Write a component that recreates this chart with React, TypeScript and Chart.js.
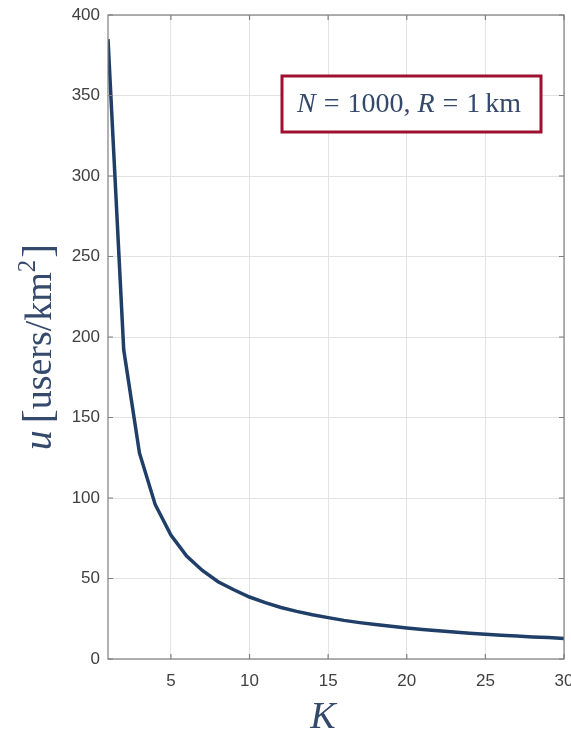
import React, { useEffect, useRef } from "react";
import { Chart, registerables } from "chart.js";

Chart.register(...registerables);

const kValues = [1, 2, 3, 4, 5, 6, 7, 8, 9, 10, 11, 12, 13, 14, 15, 16, 17, 18, 19, 20, 21, 22, 23, 24, 25, 26, 27, 28, 29, 30];
const uValues = [385, 192, 128, 96, 77, 64, 55, 48, 43, 38.5, 35, 32, 29.6, 27.5, 25.7, 24, 22.6, 21.4, 20.3, 19.2, 18.3, 17.5, 16.7, 16, 15.4, 14.8, 14.3, 13.7, 13.3, 12.8];
const xTickValues = [5, 10, 15, 20, 25, 30];
const yTickValues = [0, 50, 100, 150, 200, 250, 300, 350, 400];
const annotationText = { n: "N", nVal: "1000", r: "R", rVal: "1", unit: "km" };

const TEXT_BLUE = "#34496b";
const AXIS_GRAY = "#7f7f7f";

const decorPlugin = {
  id: "decor",
  afterDraw(chart: any) {
    const { ctx, chartArea } = chart;
    const { left, right, top, bottom } = chartArea;
    const xs = chart.scales.x;
    const ys = chart.scales.y;
    ctx.save();
    // box
    ctx.strokeStyle = AXIS_GRAY;
    ctx.lineWidth = 1.2;
    ctx.strokeRect(left, top, right - left, bottom - top);
    // inward ticks
    const tl = 5;
    ctx.beginPath();
    xTickValues.forEach((v) => {
      const px = xs.getPixelForValue(v);
      ctx.moveTo(px, bottom);
      ctx.lineTo(px, bottom - tl);
      ctx.moveTo(px, top);
      ctx.lineTo(px, top + tl);
    });
    yTickValues.forEach((v) => {
      const py = ys.getPixelForValue(v);
      ctx.moveTo(left, py);
      ctx.lineTo(left + tl, py);
      ctx.moveTo(right, py);
      ctx.lineTo(right - tl, py);
    });
    ctx.stroke();

    // annotation box
    const bx = 282, by = 76, bw = 259, bh = 56;
    ctx.fillStyle = "#ffffff";
    ctx.fillRect(bx, by, bw, bh);
    ctx.strokeStyle = "#9e1030";
    ctx.lineWidth = 3;
    ctx.strokeRect(bx, by, bw, bh);
    ctx.fillStyle = TEXT_BLUE;
    ctx.textBaseline = "alphabetic";
    ctx.textAlign = "left";
    const base = by + 36;
    const it = "italic 28px 'Liberation Serif'";
    const up = "28px 'Liberation Serif'";
    let x = bx + 15;
    const put = (t: string, f: string, gap = 0) => {
      ctx.font = f;
      ctx.fillText(t, x, base);
      x += ctx.measureText(t).width + gap;
    };
    put(annotationText.n, it, 8);
    put("=", up, 8);
    put(annotationText.nVal + ",", up, 7);
    put(annotationText.r, it, 8);
    put("=", up, 8);
    put(annotationText.rVal, up, 5);
    put(annotationText.unit, up, 0);

    // x title
    ctx.font = "italic 38px 'Liberation Serif'";
    ctx.textAlign = "center";
    ctx.fillText("K", 323, 728);

    // y title
    ctx.translate(51, 347);
    ctx.rotate(-Math.PI / 2);
    ctx.textAlign = "left";
    const parts: [string, string, number][] = [
      ["u", "italic 40px 'Liberation Serif'", 7],
      ["[", "42px 'Liberation Serif'", 0],
      ["users/km", "38px 'Liberation Serif'", 0],
      ["2", "25px 'Liberation Serif'", 2],
      ["]", "42px 'Liberation Serif'", 0],
    ];
    let total = 0;
    parts.forEach(([t, f, g]) => {
      ctx.font = f;
      total += ctx.measureText(t).width + g;
    });
    let cx = -total / 2;
    parts.forEach(([t, f, g]) => {
      ctx.font = f;
      const yoff = t === "2" ? -16 : 0;
      ctx.fillText(t, cx, yoff);
      cx += ctx.measureText(t).width + g;
    });
    ctx.restore();
  },
};

export default function App() {
  const ref = useRef<HTMLCanvasElement>(null);
  useEffect(() => {
    document.body.style.margin = "0";
    const chart = new Chart(ref.current!, {
      type: "line",
      data: {
        datasets: [
          {
            data: kValues.map((k, i) => ({ x: k, y: uValues[i] })),
            borderColor: "#1f3e68",
            borderWidth: 3.5,
            pointRadius: 0,
            tension: 0,
            fill: false,
          },
        ],
      },
      options: {
        animation: false,
        responsive: false,
        maintainAspectRatio: false,
        layout: { padding: { top: 15, right: 7, left: 0, bottom: 0 } },
        plugins: { legend: { display: false }, tooltip: { enabled: false } },
        scales: {
          x: {
            type: "linear",
            min: 1,
            max: 30,
            afterBuildTicks: (s: any) => {
              s.ticks = xTickValues.map((v) => ({ value: v }));
            },
            afterFit: (s: any) => {
              s.height = 75;
              s.paddingLeft = 0;
              s.paddingRight = 0;
            },
            grid: { color: "#e3e3e3", lineWidth: 1, drawTicks: false },
            border: { display: false },
            ticks: {
              padding: 12,
              color: "#404040",
              font: { family: "'Liberation Sans'", size: 17 },
              maxRotation: 0,
            },
          },
          y: {
            type: "linear",
            min: 0,
            max: 400,
            afterBuildTicks: (s: any) => {
              s.ticks = yTickValues.map((v) => ({ value: v }));
            },
            afterFit: (s: any) => {
              s.width = 108;
              s.paddingTop = 0;
              s.paddingBottom = 0;
            },
            grid: { color: "#e3e3e3", lineWidth: 1, drawTicks: false },
            border: { display: false },
            ticks: {
              padding: 8,
              color: "#404040",
              font: { family: "'Liberation Sans'", size: 17 },
            },
          },
        },
      },
      plugins: [decorPlugin],
    });
    return () => chart.destroy();
  }, []);
  return (
    <div style={{ position: "absolute", left: 0, top: 0, width: 571, height: 734 }}>
      <canvas ref={ref} width={571} height={734} style={{ width: 571, height: 734 }} />
    </div>
  );
}
